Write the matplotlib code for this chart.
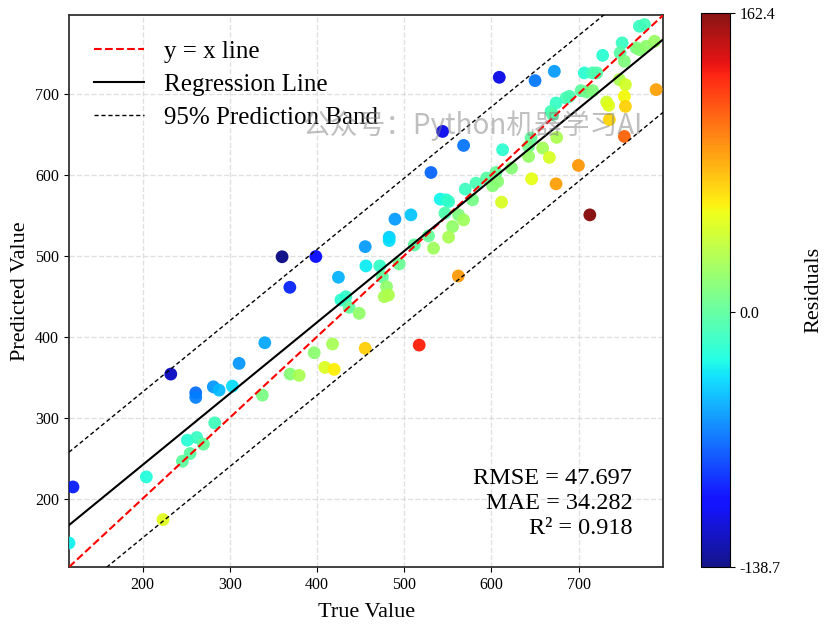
import numpy as np
import matplotlib
matplotlib.use("Agg")
import matplotlib.pyplot as plt

plt.rcParams['font.family'] = 'serif'
plt.rcParams['font.serif'] = ['Liberation Serif', 'DejaVu Serif']

# values
y_true = np.array([
    360.0, 398.7, 424.6, 368.9, 433.1, 427.4, 436.9, 448.4, 340.2, 310.7,
    396.8, 417.8, 409.0, 419.7, 369.2, 379.6, 232.4, 281.2, 287.8, 303.0,
    261.0, 261.0, 337.4, 282.8, 251.4, 262.2, 269.8, 254.5, 245.7, 204.4,
    120.3, 223.5, 115.7, 456.1, 472.0, 475.0, 494.3, 479.7, 477.1, 482.0,
    455.3, 517.2, 530.7, 489.4, 507.7, 482.8, 482.8, 541.3, 547.9, 550.9,
    546.7, 562.3, 568.1, 555.4, 550.9, 533.6, 527.9, 511.5, 562.0, 570.0,
    582.3, 594.4, 605.2, 578.4, 601.3, 607.1, 611.6, 623.1, 646.1, 612.8,
    609.0, 650.0, 672.1, 727.5, 706.5, 716.1, 720.7, 749.8, 769.6, 775.4,
    747.5, 752.4, 765.8, 769.6, 777.3, 786.9, 746.7, 753.6, 752.4, 732.1,
    734.4, 753.6, 788.8, 735.2, 752.4, 702.7, 709.2, 716.1, 685.5, 689.4,
    674.1, 668.3, 670.2, 674.8, 645.4, 642.6, 642.6, 658.7, 666.4, 699.7,
    712.8, 674.1, 544.0, 568.1, 455.3,
])
y_pred = np.array([
    498.7, 499.0, 473.4, 461.0, 449.4, 445.4, 436.3, 428.9, 392.6, 367.1,
    380.2, 391.0, 362.2, 359.7, 353.9, 352.3, 353.9, 338.2, 334.1, 339.0,
    330.8, 325.1, 327.9, 293.7, 272.3, 275.6, 267.4, 255.9, 246.4, 227.0,
    214.6, 174.3, 145.4, 487.4, 487.4, 474.0, 489.9, 461.8, 449.4, 451.5,
    385.7, 389.7, 602.7, 545.1, 550.4, 522.9, 518.7, 569.8, 569.0, 566.9,
    552.5, 550.4, 544.2, 536.0, 522.9, 509.3, 524.5, 513.3, 475.0, 582.2,
    589.6, 595.8, 602.7, 569.0, 586.3, 591.6, 566.1, 608.2, 594.9, 630.8,
    720.2, 716.1, 727.6, 747.3, 725.6, 725.6, 725.6, 762.7, 783.2, 785.3,
    750.3, 739.9, 756.5, 754.4, 758.5, 764.6, 717.3, 711.1, 696.7, 689.7,
    685.5, 684.3, 705.0, 667.9, 647.2, 703.7, 702.1, 703.7, 694.7, 696.7,
    688.5, 678.1, 674.0, 646.0, 645.2, 634.9, 622.5, 632.9, 621.3, 611.4,
    550.4, 588.7, 653.4, 636.1, 511.2,
])
metric_lines = ["RMSE = 47.697", "MAE = 34.282", "R\u00b2 = 0.918"]
axis_lims = [115.7, 797.0]
watermark = "公众号：Python机器学习AI"

residuals = y_true - y_pred
vmin, vmax = residuals.min(), residuals.max()

fig = plt.figure(figsize=(8.26, 6.28), dpi=100)
ax = fig.add_axes([0.0835, 0.097, 0.7195, 0.879])

sc = ax.scatter(y_true, y_pred, c=residuals, cmap='jet', vmin=vmin, vmax=vmax,
                s=85, alpha=0.92, edgecolors='none', zorder=3)

xs = np.array(axis_lims)
ax.plot(xs, xs, 'r--', lw=1.5, label='y = x line', zorder=4)

# regression line and a constant-width 95% band around it
slope, intercept = np.polyfit(y_true, y_pred, 1)
fit = slope * xs + intercept
band = 1.98 * np.std(y_pred - (slope * y_true + intercept), ddof=2) * np.sqrt(1 + 1 / len(y_true))
ax.plot(xs, fit, 'k-', lw=1.5, label='Regression Line', zorder=4)
ax.plot(xs, fit + band, 'k--', lw=1.0, dashes=(3, 2), label='95% Prediction Band', zorder=4)
ax.plot(xs, fit - band, 'k--', lw=1.0, dashes=(3, 2), zorder=4)

ax.set_xlim(axis_lims)
ax.set_ylim(axis_lims)
ax.set_xticks([200, 300, 400, 500, 600, 700])
ax.set_yticks([200, 300, 400, 500, 600, 700])
ax.tick_params(labelsize=11.5)
ax.grid(True, ls='--', color='#d9d9d9', lw=1.0, alpha=0.8)
ax.set_axisbelow(True)
for sp in ax.spines.values():
    sp.set_color('#333333')
    sp.set_linewidth(1.3)

ax.set_xlabel('True Value', fontsize=16, labelpad=7)
ax.set_ylabel('Predicted Value', fontsize=16)

ax.legend(loc='upper left', frameon=False, fontsize=18, labelspacing=0.42,
          handlelength=2.0, handletextpad=0.8, borderaxespad=0.6,
          bbox_to_anchor=(0.0, 1.0))

ax.text(0.948, 0.05, "\n".join(metric_lines), transform=ax.transAxes,
        ha='right', va='bottom', fontsize=17.5, linespacing=1.25, zorder=5)

ax.text(0.68, 0.80, watermark, transform=ax.transAxes, ha='center', va='center',
        fontsize=20, color='gray', alpha=0.5, family=['Noto Sans CJK SC', 'DejaVu Sans'],
        zorder=6)

cax = fig.add_axes([0.8487, 0.097, 0.035, 0.882])
cbar = fig.colorbar(sc, cax=cax)
ticks = [vmin, 0.0, vmax]
cbar.set_ticks(ticks)
cbar.set_ticklabels([f"{t:.1f}" for t in ticks])
cbar.ax.tick_params(labelsize=11.5)
cbar.set_label('Residuals', fontsize=16, labelpad=17)

fig.savefig('out.png', dpi=100)
